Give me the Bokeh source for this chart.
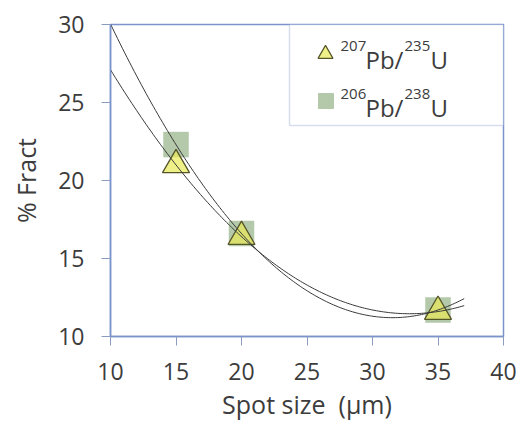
import numpy as np
from bokeh.plotting import figure
from bokeh.models import Range1d, FixedTicker, Label, BoxAnnotation
from bokeh.embed import file_html
from bokeh.resources import INLINE

# ---- data ----
spot_size = [15, 20, 35]
pb207_235 = [21.0, 16.4, 11.6]
pb206_238 = [22.3, 16.6, 11.7]
x_ticks = [10, 15, 20, 25, 30, 35, 40]
y_ticks = [10, 15, 20, 25, 30]
fit_start = 10
fit_end = 37
legend_rows = [("207", "235"), ("206", "238")]

FONT = "Open Sans"
TXT = "#3c3c3c"
BLUE = "#7b93cb"
TRI_FILL = "#e9e955"
TRI_LINE = "#55552a"
SQ_FILL = "#b4c8aa"

X0, X1, Y0, Y1 = 10, 40, 10, 30
FL, FT, FW, FH = 110, 24, 393, 312  # frame position in the picture (px)


def dx(px):
    return X0 + (px - FL) / FW * (X1 - X0)


def dy(py):
    return Y1 - (py - FT) / FH * (Y1 - Y0)


p = figure(frame_width=FW, frame_height=FH, output_backend="svg", toolbar_location=None,
           x_range=Range1d(X0, X1), y_range=Range1d(Y0, Y1),
           min_border_left=FL, min_border_right=17, min_border_top=FT,
           min_border_bottom=85, background_fill_color="white", border_fill_color="white")

p.xgrid.visible = False
p.ygrid.visible = False
p.outline_line_color = BLUE
p.outline_line_width = 1.5

p.xaxis.ticker = FixedTicker(ticks=x_ticks)
p.yaxis.ticker = FixedTicker(ticks=y_ticks)
p.xaxis.axis_label = "Spot size\u00a0 (µm)"
p.yaxis.axis_label = "% Fract"
for ax in (p.xaxis[0], p.yaxis[0]):
    ax.axis_line_color = BLUE
    ax.axis_line_width = 1.5
    ax.major_tick_line_color = "#8c9cc0"
    ax.major_tick_in = 0
    ax.major_tick_out = 9
    ax.minor_tick_line_color = None
    ax.major_label_text_font = FONT
    ax.major_label_text_font_size = "23px"
    ax.major_label_text_color = TXT
    ax.axis_label_text_font = FONT
    ax.axis_label_text_font_size = "25px"
    ax.axis_label_text_font_style = "normal"
    ax.axis_label_text_color = TXT
p.yaxis.major_label_standoff = 17
p.yaxis.axis_label_standoff = 12
p.xaxis.major_label_standoff = 17
p.xaxis.axis_label_standoff = 4

# markers
p.scatter(spot_size, pb206_238, marker="square", size=25, fill_color=SQ_FILL,
          line_color=SQ_FILL, line_width=0.5)
p.scatter(spot_size, pb207_235, marker="triangle", size=27, fill_color=TRI_FILL,
          fill_alpha=0.7, line_color=TRI_LINE, line_width=1.3)

# quadratic trend lines
xs = np.linspace(fit_start, fit_end, 150)
for vals in (pb206_238, pb207_235):
    c = np.polyfit(spot_size, vals, 2)
    p.line(xs, np.polyval(c, xs), line_color="#3a3a3a", line_width=1)

# legend
box = BoxAnnotation(left=dx(289), right=X1, top=Y1, bottom=dy(125), fill_color="white",
                    fill_alpha=1.0, line_color=BLUE, line_width=1.5, level="underlay")
p.add_layout(box)
p.scatter([dx(325)], [dy(53.5)], marker="triangle", size=15, fill_color=TRI_FILL,
          fill_alpha=0.7, line_color=TRI_LINE, line_width=1.2)
p.scatter([dx(325.5)], [dy(100.5)], marker="square", size=15, fill_color=SQ_FILL,
          line_color=SQ_FILL)

for i, (sup1, sup2) in enumerate(legend_rows):
    off = 48 * i
    parts = [(340, 45, sup1, "15px"), (365, 59, "Pb/", "24px"),
             (404, 45, sup2, "15px"), (430, 59, "U", "24px")]
    for px, py, t, fs in parts:
        p.add_layout(Label(x=dx(px), y=dy(py + off), text=t, text_font=FONT,
                           text_font_size=fs, text_color=TXT, text_align="left",
                           text_baseline="alphabetic"))

open("out.html", "w").write(file_html(p, INLINE))
